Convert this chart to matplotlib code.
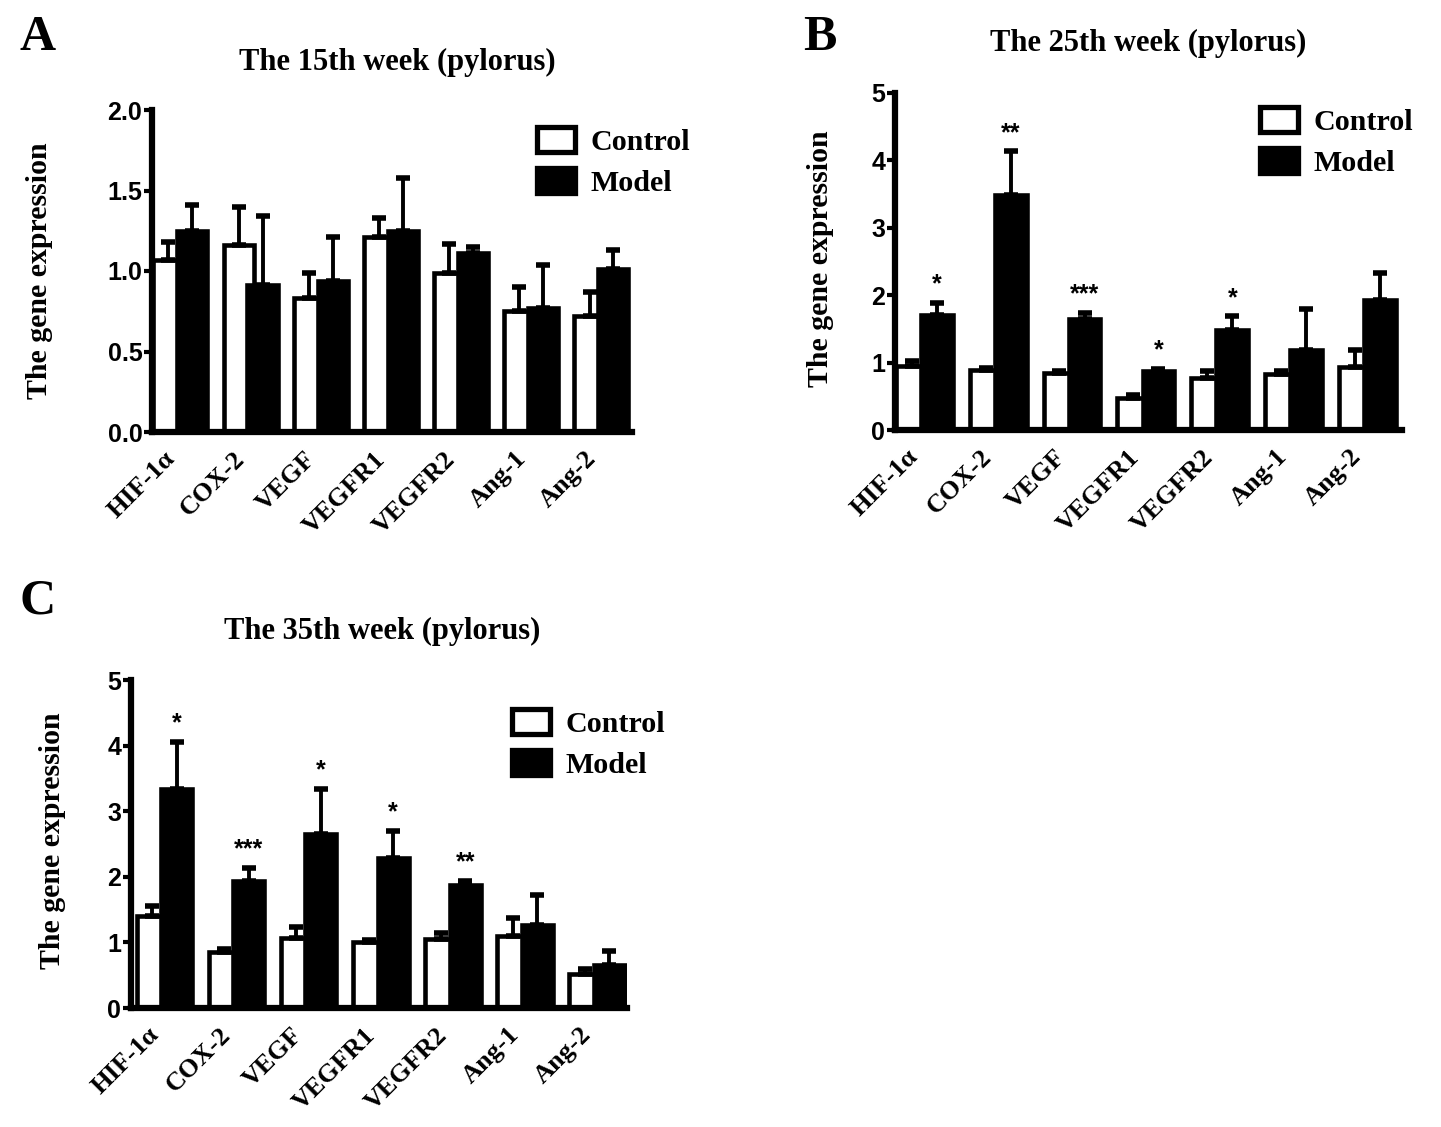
import numpy as np
import matplotlib
matplotlib.use("Agg")
import matplotlib.pyplot as plt
from matplotlib.patches import Patch

# ---------------- data ----------------
genes = ["HIF-1α", "COX-2", "VEGF", "VEGFR1", "VEGFR2", "Ang-1", "Ang-2"]

a_control = [1.07, 1.16, 0.83, 1.21, 0.99, 0.75, 0.72]
a_control_err = [0.11, 0.24, 0.16, 0.12, 0.18, 0.15, 0.15]
a_model = [1.25, 0.91, 0.94, 1.25, 1.11, 0.77, 1.01]
a_model_err = [0.16, 0.43, 0.27, 0.33, 0.04, 0.27, 0.12]
a_stars = ["", "", "", "", "", "", ""]

b_control = [0.95, 0.89, 0.84, 0.48, 0.77, 0.83, 0.94]
b_control_err = [0.08, 0.03, 0.03, 0.04, 0.11, 0.05, 0.25]
b_model = [1.71, 3.48, 1.65, 0.88, 1.49, 1.19, 1.93]
b_model_err = [0.18, 0.66, 0.09, 0.03, 0.20, 0.60, 0.40]
b_stars = ["*", "**", "***", "*", "*", "", ""]

c_control = [1.40, 0.85, 1.07, 1.00, 1.05, 1.10, 0.52]
c_control_err = [0.16, 0.05, 0.16, 0.03, 0.10, 0.27, 0.08]
c_model = [3.34, 1.94, 2.66, 2.28, 1.88, 1.27, 0.66]
c_model_err = [0.72, 0.20, 0.68, 0.42, 0.06, 0.46, 0.21]
c_stars = ["*", "***", "*", "*", "**", "", ""]

a_yticks = [0.0, 0.5, 1.0, 1.5, 2.0]
a_yticklabels = ["0.0", "0.5", "1.0", "1.5", "2.0"]
bc_yticks = [0, 1, 2, 3, 4, 5]
bc_yticklabels = ["0", "1", "2", "3", "4", "5"]

titles = ["The 15th week (pylorus)", "The 25th week (pylorus)", "The 35th week (pylorus)"]
letters = ["A", "B", "C"]
ylabel = "The gene expression"
legend_labels = ["Control", "Model"]

# ---------------- layout ----------------
W, H = 1441, 1127
fig = plt.figure(figsize=(W / 100, H / 100), dpi=100)
fig.patch.set_facecolor("white")

def rect(x0, y0, x1, y1):
    return [x0 / W, 1 - y1 / H, (x1 - x0) / W, (y1 - y0) / H]

def fpt(x, y):
    return (x / W, 1 - y / H)

SERIF = "Liberation Serif"
SANS = "Liberation Sans"
BAR_LW = 3.3
BAR_W = 0.43

def panel(box, control, cerr, model, merr, stars, yticks, yticklabels, ylim, xlim,
          legend_xy):
    ax = fig.add_axes(rect(*box))
    x = np.arange(len(genes))
    cx = x - 0.125
    mx = x + 0.215
    zeros = np.zeros(len(genes))
    ax.bar(cx, control, width=BAR_W, color="white", edgecolor="black",
           linewidth=BAR_LW, zorder=2)
    ax.errorbar(cx, control, yerr=[zeros, cerr], fmt="none", ecolor="black",
                elinewidth=2.8, capsize=5, capthick=4, zorder=2.5)
    ax.bar(mx, model, width=BAR_W, color="black", edgecolor="black",
           linewidth=BAR_LW, zorder=3)
    ax.errorbar(mx, model, yerr=[zeros, merr], fmt="none", ecolor="black",
                elinewidth=2.8, capsize=5, capthick=4, zorder=3.5)
    for i, s in enumerate(stars):
        if s:
            ax.annotate(s, (mx[i], model[i] + merr[i]), xytext=(0, 8),
                        textcoords="offset points", ha="center", va="baseline",
                        fontsize=18, fontweight="bold", family=SANS)
    ax.set_ylim(*ylim)
    ax.set_xlim(*xlim)
    ax.set_yticks(yticks)
    ax.set_yticklabels(yticklabels, fontsize=18, fontweight="bold", family=SANS)
    ax.set_xticks(x - 0.2)
    ax.set_xticklabels(genes, rotation=45, ha="right", va="top",
                       rotation_mode="anchor", fontsize=19, fontweight="bold",
                       family=SERIF)
    ax.tick_params(axis="y", length=6, width=3, direction="out", pad=1)
    ax.tick_params(axis="x", length=0, pad=11)
    for sp in ["top", "right"]:
        ax.spines[sp].set_visible(False)
    for sp in ["left", "bottom"]:
        ax.spines[sp].set_linewidth(4.5)
    ax.set_facecolor("none")
    handles = [Patch(facecolor="white", edgecolor="black", linewidth=BAR_LW + 0.5),
               Patch(facecolor="black", edgecolor="black", linewidth=BAR_LW + 0.5)]
    ax.legend(handles, legend_labels, loc="upper left",
              bbox_to_anchor=fpt(*legend_xy), bbox_transform=fig.transFigure,
              frameon=False, borderpad=0, borderaxespad=0,
              handlelength=1.27, handleheight=0.9, handletextpad=0.5,
              labelspacing=0.4,
              prop={"family": SERIF, "weight": "bold", "size": 21.6})
    return ax

panel((152, 110, 632, 432), a_control, a_control_err, a_model, a_model_err, a_stars,
      a_yticks, a_yticklabels, (0, 2.0), (-0.36, 6.48), (537, 127))
panel((895, 93, 1402, 430), b_control, b_control_err, b_model, b_model_err, b_stars,
      bc_yticks, bc_yticklabels, (0, 5), (-0.35, 6.51), (1260, 107))
panel((131, 680, 627, 1008), c_control, c_control_err, c_model, c_model_err, c_stars,
      bc_yticks, bc_yticklabels, (0, 5), (-0.42, 6.46), (512, 709))

# titles, letters, y labels
for (tx, ty), t in zip([(397, 62), (1148, 43), (382, 631)], titles):
    fig.text(*fpt(tx, ty), t, ha="center", va="center", fontsize=22,
             fontweight="bold", family=SERIF)
for (lx, ly), l in zip([(38, 38), (820, 38), (38, 602)], letters):
    fig.text(*fpt(lx, ly), l, ha="center", va="center", fontsize=36,
             fontweight="bold", family=SERIF)
for (yx, yy) in [(40, 271), (820, 259), (52, 841)]:
    fig.text(*fpt(yx, yy), ylabel, rotation=90, ha="center", va="center",
             fontsize=21.5, fontweight="bold", family=SERIF)

fig.savefig("out.png", dpi=100, facecolor="white")
